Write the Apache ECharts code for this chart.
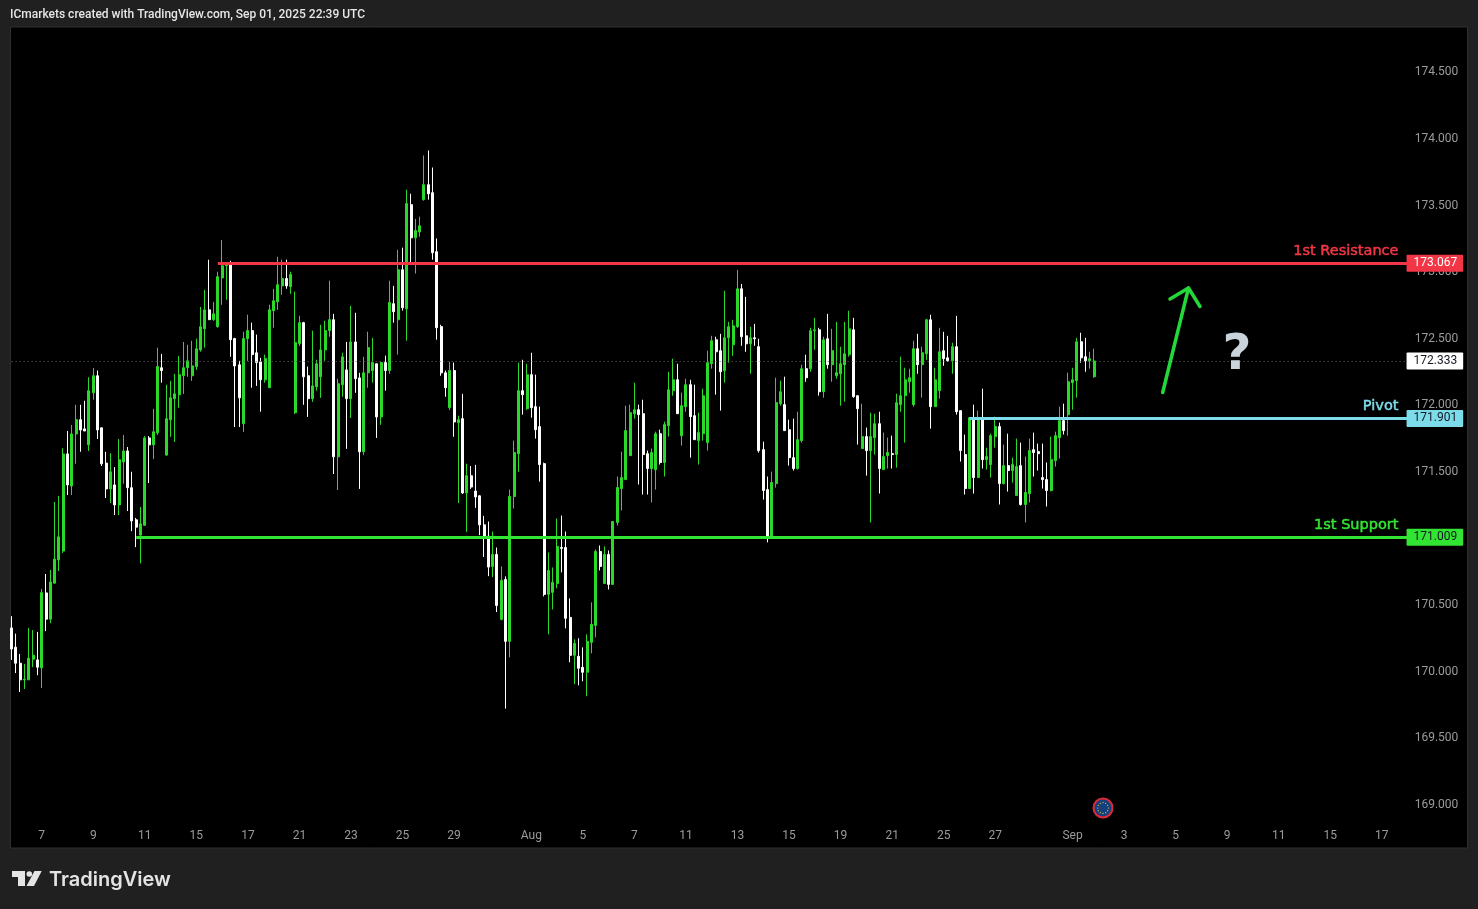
<!DOCTYPE html>
<html><head><meta charset="utf-8">
<style>html,body{margin:0;padding:0;background:#202020}#c{width:1478px;height:909px}</style>
<script src="https://cdn.jsdelivr.net/npm/echarts@6/dist/echarts.min.js"></script>
</head><body><div id="c"></div>
<script>
const opens=[170.328,170.183,170.063,169.938,169.938,170.093,170.088,170.028,170.591,170.394,
170.664,170.839,170.905,171.635,171.394,171.785,171.892,171.823,171.703,172.094,
172.222,171.831,171.566,171.372,171.402,171.252,171.575,171.657,171.381,171.140,
171.025,171.099,171.755,171.703,171.793,172.282,171.626,171.892,172.050,172.080,
172.222,172.282,172.222,172.291,172.416,172.575,172.717,172.643,172.591,172.957,
173.048,173.061,172.501,172.304,171.862,172.501,172.561,172.394,172.326,172.192,
172.132,172.711,172.777,172.897,172.952,172.892,171.944,172.463,172.621,172.222,
172.050,172.140,172.214,172.416,172.561,172.643,171.613,172.154,172.266,172.050,
172.476,172.206,171.651,172.244,172.261,172.312,171.913,172.321,172.261,172.763,
172.643,173.018,172.725,173.507,173.258,173.302,173.545,173.657,173.597,173.154,
172.591,172.244,171.982,172.261,171.870,171.900,171.342,171.471,171.356,171.320,
171.102,171.017,170.790,170.880,170.392,170.692,170.227,171.315,171.637,172.110,
171.975,172.230,171.990,171.840,171.562,170.580,170.595,170.662,170.932,170.932,
170.407,170.122,170.115,170.032,169.995,170.220,170.347,170.902,170.662,170.880,
170.655,171.120,171.375,171.442,171.622,171.937,171.967,171.937,171.637,171.525,
171.517,171.787,171.570,171.847,172.110,172.192,171.772,171.990,172.155,171.922,
171.735,171.787,171.720,172.312,172.492,172.410,172.260,172.507,172.455,172.590,
172.875,172.522,172.462,172.507,172.440,171.667,171.367,171.012,171.412,172.012,
172.005,171.817,171.607,171.525,171.735,172.275,172.275,172.560,172.567,172.102,
172.500,172.305,172.222,172.237,172.305,172.380,172.567,172.072,171.675,171.765,
171.660,171.757,171.862,171.517,171.622,171.637,171.630,172.005,172.072,172.177,
172.005,172.425,172.305,172.387,172.642,171.990,172.110,172.410,172.357,172.335,
172.440,171.960,171.630,171.375,171.892,171.457,171.892,171.592,171.555,171.765,
171.840,171.412,171.547,171.510,171.322,171.547,171.255,171.337,171.667,171.652,
171.457,171.442,171.360,171.585,171.757,171.885,171.930,172.170,172.185,172.477,
172.365,172.335,172.215];
const closes=[170.170,170.063,169.938,169.943,170.101,170.123,170.033,170.593,170.394,170.673,
170.845,171.012,171.635,171.402,171.785,171.892,171.815,171.807,172.110,172.222,
171.815,171.561,171.372,171.501,171.252,171.591,171.657,171.381,171.132,171.085,
171.110,171.755,171.703,171.801,172.291,172.261,171.900,172.056,172.086,172.230,
172.282,172.334,172.296,172.425,172.591,172.717,172.643,172.687,172.966,173.048,
173.061,172.493,172.296,172.056,172.501,172.561,172.381,172.321,172.192,172.351,
172.717,172.785,172.906,172.952,172.897,172.982,172.471,172.621,172.214,172.050,
172.146,172.312,172.416,172.561,172.643,171.613,172.162,172.364,172.050,172.476,
172.200,171.651,172.244,172.433,172.321,171.913,172.321,172.261,172.772,172.703,
173.018,172.733,173.515,173.258,173.313,173.348,173.657,173.589,173.146,172.583,
172.244,172.132,172.261,171.875,171.892,171.342,171.471,171.386,171.312,171.102,
171.003,170.785,170.880,170.497,170.685,170.227,171.315,171.645,172.110,172.080,
172.230,171.982,171.817,171.555,170.580,170.760,170.670,170.940,170.925,170.400,
170.122,170.212,170.025,169.995,170.227,170.355,170.902,170.790,170.880,170.655,
171.127,171.382,171.457,171.810,171.945,171.967,171.930,171.630,171.525,171.645,
171.787,171.570,171.855,172.117,172.192,171.937,171.997,172.155,171.915,171.742,
171.795,172.072,172.320,172.485,172.402,172.252,172.507,172.590,172.597,172.875,
172.515,172.462,172.507,172.500,171.660,171.360,171.015,171.420,172.020,172.102,
171.810,171.607,171.525,171.742,172.275,172.207,172.560,172.567,172.102,172.492,
172.305,172.410,172.245,172.312,172.387,172.575,172.065,171.975,171.765,171.660,
171.765,171.862,171.525,171.615,171.645,171.630,172.020,172.072,172.192,172.207,
172.425,172.305,172.395,172.642,171.990,172.192,172.402,172.350,172.335,172.440,
171.952,171.660,171.375,171.907,171.457,171.892,171.592,171.615,171.772,171.840,
171.412,171.547,171.510,171.555,171.540,171.255,171.345,171.660,171.645,171.637,
171.442,171.360,171.592,171.772,171.885,171.810,172.177,172.192,172.477,172.357,
172.335,172.350,172.333];
const highs=[170.416,170.285,170.132,170.058,170.328,170.312,170.298,170.621,170.733,170.763,
171.274,171.320,171.678,171.807,171.853,172.004,172.004,172.034,172.211,172.280,
172.261,171.831,171.651,171.640,171.536,171.747,171.777,171.687,171.501,171.154,
171.236,171.769,171.769,171.974,172.433,172.386,172.154,172.184,172.236,172.370,
172.476,172.455,172.485,172.501,172.739,172.867,173.094,172.777,173.004,173.242,
173.072,173.086,172.507,172.334,172.553,172.681,172.621,172.531,172.356,172.381,
172.755,172.875,173.116,173.094,173.094,173.004,172.854,172.673,172.627,172.291,
172.561,172.343,172.605,172.635,172.936,172.687,172.200,172.394,172.476,172.747,
172.695,172.244,172.364,172.553,172.507,172.312,172.326,172.373,172.936,172.897,
173.168,173.184,173.619,173.589,173.400,173.417,173.876,173.914,173.786,173.253,
172.605,172.261,172.326,172.321,171.922,172.086,171.561,171.544,171.553,171.326,
171.170,171.127,171.052,170.932,170.790,170.715,171.367,171.735,172.320,172.342,
172.312,172.395,172.230,171.990,171.570,170.895,170.782,171.150,171.172,171.052,
170.550,170.242,170.250,170.182,170.280,170.520,170.917,170.947,170.940,170.910,
171.127,171.465,171.652,171.997,172.005,172.170,172.005,172.042,171.660,171.675,
171.802,171.817,171.877,172.252,172.350,172.312,172.095,172.200,172.192,172.155,
171.945,172.125,172.410,172.522,172.515,172.537,172.860,172.627,172.642,173.017,
172.912,172.815,172.590,172.612,172.500,171.727,171.465,171.502,172.207,172.185,
172.215,171.892,171.900,171.952,172.305,172.380,172.582,172.657,172.582,172.515,
172.687,172.575,172.627,172.440,172.627,172.710,172.657,172.072,172.012,171.832,
171.945,171.937,171.952,171.795,171.757,171.772,172.087,172.365,172.282,172.275,
172.485,172.537,172.440,172.650,172.680,172.282,172.582,172.552,172.522,172.470,
172.672,171.960,171.780,171.907,172.005,171.960,172.125,171.682,171.787,171.915,
171.870,171.705,171.787,171.607,171.750,171.720,171.615,171.750,171.795,171.712,
171.712,171.570,171.765,171.802,171.990,172.012,172.245,172.282,172.507,172.545,
172.507,172.402,172.425];
const lows=[170.088,169.989,169.847,169.869,169.938,170.033,169.973,169.877,170.304,170.364,
170.664,170.755,170.891,171.326,171.326,171.561,171.651,171.807,171.657,172.042,
171.747,171.544,171.304,171.266,171.176,171.176,171.411,171.206,171.055,170.935,
170.812,171.094,171.416,171.596,171.777,172.170,171.621,171.763,171.725,171.982,
172.086,172.214,172.184,172.266,172.403,172.433,172.643,172.635,172.583,172.755,
172.793,172.364,171.837,171.837,171.801,172.334,172.132,172.146,171.952,172.170,
172.132,172.583,172.717,172.832,172.875,172.837,171.935,172.446,172.004,171.913,
172.026,172.110,172.056,172.334,172.515,171.484,171.364,172.064,171.673,171.905,
172.094,171.372,171.626,172.132,172.170,171.755,171.853,172.110,172.236,172.621,
172.381,172.711,172.485,173.067,172.990,173.266,173.537,173.545,173.094,172.493,
172.222,172.064,171.965,171.763,171.266,171.334,171.050,171.372,171.230,171.025,
170.861,170.717,170.710,170.447,170.385,169.722,170.107,171.225,171.502,171.930,
171.967,171.907,171.750,171.427,170.565,170.280,170.467,170.625,170.745,170.325,
170.070,169.905,169.897,169.927,169.815,170.137,170.257,170.760,170.662,170.617,
170.655,171.097,171.210,171.442,171.622,171.900,171.405,171.330,171.330,171.270,
171.367,171.555,171.465,171.765,172.072,171.937,171.697,171.952,171.607,171.742,
171.555,171.735,171.660,172.275,172.080,171.960,172.170,172.320,172.372,172.582,
172.447,172.402,172.237,172.447,171.645,171.292,170.970,171.012,171.382,171.997,
171.810,171.547,171.510,171.517,171.720,172.177,172.252,172.417,172.072,172.057,
172.275,172.177,172.200,171.997,172.027,172.365,172.057,171.705,171.675,171.472,
171.120,171.630,171.337,171.517,171.525,171.525,171.532,171.952,171.720,172.095,
171.990,172.237,172.057,172.342,171.825,171.990,172.050,172.297,172.327,172.237,
171.930,171.577,171.330,171.375,171.337,171.457,171.525,171.517,171.457,171.682,
171.255,171.405,171.352,171.420,171.322,171.247,171.120,171.270,171.465,171.510,
171.375,171.240,171.352,171.540,171.600,171.780,171.772,171.967,172.057,172.320,
172.252,172.275,172.207];
const dateTickSlots=[7,19,31,43,55,67,79,91,103,121,133,145,157,169,181,193,205,217,229,247,259,271,283,295,307,319];
const dateTickLabels=['7','9','11','15','17','21','23','25','29','Aug','5','7','11','13','15','19','21','25','27','Sep','3','5','9','11','15','17'];
const priceTicks=[169,169.5,170,170.5,171,171.5,172,172.5,173,173.5,174,174.5];
const SLOT_COUNT=326, LAST_SLOT=325;
const levelNames=['1st Resistance','Pivot','1st Support'];
const levelValues=[173.067,171.901,171.009];
const levelStartSlots=[48,223,29];
const levelColors=['#f23645','#7ddcea','#33e533'];
const levelTagText=['#ffffff','#131722','#131722'];
const lastPrice=172.333;

const categories=new Array(SLOT_COUNT).fill('');
dateTickSlots.forEach((s,i)=>{categories[s]=dateTickLabels[i];});
const candles=opens.map((o,i)=>[o,closes[i],lows[i],highs[i]]);
const G='#2bd92b', W='#ffffff', ARROW='#24d83a';
const FONT='Roboto, sans-serif';
const tag=(bg,fg)=>({show:true,position:'end',distance:-1,color:fg,backgroundColor:bg,fontFamily:FONT,fontSize:12,lineHeight:13,padding:[3,6,1,7],borderRadius:1});

const levelLines=levelValues.map((v,i)=>{
  const s=v.toFixed(3);
  return [{coord:[levelStartSlots[i],v],lineStyle:{color:levelColors[i],width:3,type:'solid',opacity:1},
    label:Object.assign(tag(levelColors[i],levelTagText[i]),{formatter:s})},{coord:[LAST_SLOT,v]}];
});
const lastLine=[{coord:[0,lastPrice],lineStyle:{color:'#6a6a6a',width:1,type:[1,3],opacity:1},
  label:Object.assign(tag('#ffffff','#131722'),{formatter:lastPrice.toFixed(3)})},{coord:[LAST_SLOT,lastPrice]}];

const starDots=[];
for(let k=0;k<12;k++){const a=k*Math.PI/6;starDots.push({type:'circle',shape:{cx:1103+5.4*Math.cos(a),cy:808+5.4*Math.sin(a),r:0.6},style:{fill:'#e8d24a'},z:20,silent:true});}

const chart=echarts.init(document.getElementById('c'),null,{renderer:'canvas'});
chart.setOption({
  animation:false,
  backgroundColor:'#202020',
  grid:{left:9.5,width:1400.2,top:28,height:820,containLabel:false,show:false},
  xAxis:{type:'category',data:categories,boundaryGap:true,
    axisLine:{show:false},axisTick:{show:false},splitLine:{show:false},
    axisLabel:{show:true,inside:true,interval:0,margin:6,color:'#9b9b9b',fontFamily:FONT,fontSize:12}},
  yAxis:{type:'value',position:'right',min:168.675,max:174.834,scale:true,
    axisLine:{show:false},axisTick:{show:false},splitLine:{show:false},
    axisLabel:{show:true,customValues:priceTicks,margin:5,padding:[2,0,0,0],color:'#9b9b9b',fontFamily:FONT,fontSize:12,formatter:v=>v.toFixed(3)}},
  series:[{type:'candlestick',data:candles,barWidth:2.5,clip:false,
    itemStyle:{color:G,color0:W,borderColor:G,borderColor0:W,borderWidth:1},
    markLine:{silent:true,symbol:'none',animation:false,z:6,precision:3,data:[lastLine].concat(levelLines)},
    markPoint:{silent:true,symbol:'circle',symbolSize:1,animation:false,z:7,
      data:levelNames.map((n,i)=>({coord:[323,levelValues[i]],value:n,
        itemStyle:{color:'rgba(0,0,0,0)'},
        label:{show:true,position:'left',distance:0,offset:[0,-12.5],formatter:n,color:levelColors[i],fontFamily:'DejaVu Sans',fontSize:14.5,fontWeight:500,textBorderColor:levelColors[i],textBorderWidth:0.5}}))}
  }],
  graphic:[
    {type:'rect',shape:{x:10.5,y:27,width:1457,height:821},style:{fill:'#000',stroke:'#2e2e2e',lineWidth:1},z:-10,silent:true},
    {type:'text',x:10,y:15,style:{text:'ICmarkets created with TradingView.com, Sep 01, 2025 22:39 UTC',fill:'#e6e6e6',font:'500 12px Roboto',textVerticalAlign:'middle'},silent:true},
    {type:'polyline',shape:{points:[[1162.7,392.5],[1188.5,288]]},style:{stroke:ARROW,lineWidth:3.5,fill:null,lineCap:'round'},z:10,silent:true},
    {type:'polyline',shape:{points:[[1170,299],[1188.5,288],[1200,306.5]]},style:{stroke:ARROW,lineWidth:3.5,fill:null,lineCap:'round',lineJoin:'round'},z:10,silent:true},
    {type:'text',x:1237,y:356,style:{text:'?',fill:'#c9d3d9',font:'bold 50px "DejaVu Sans"',textAlign:'center',textVerticalAlign:'middle'},z:10,silent:true},
    {type:'circle',shape:{cx:1103,cy:808,r:9.5},style:{fill:'#15407c',stroke:'#e0283c',lineWidth:2},z:19,silent:true},
    ...starDots,
    {type:'polygon',shape:{points:[[12,871],[25,871],[25,886],[18,886],[18,877],[12,877]]},style:{fill:'#e4e4e4'},z:10,silent:true},
    {type:'circle',shape:{cx:29.3,cy:874,r:2.8},style:{fill:'#e4e4e4'},z:10,silent:true},
    {type:'polygon',shape:{points:[[34.5,871],[41.7,871],[34,886],[26.5,886]]},style:{fill:'#e4e4e4'},z:10,silent:true},
    {type:'text',x:49,y:880,style:{text:'TradingView',fill:'#e4e4e4',font:'600 20px Inter',textVerticalAlign:'middle'},silent:true}
  ]
});
</script></body></html>
